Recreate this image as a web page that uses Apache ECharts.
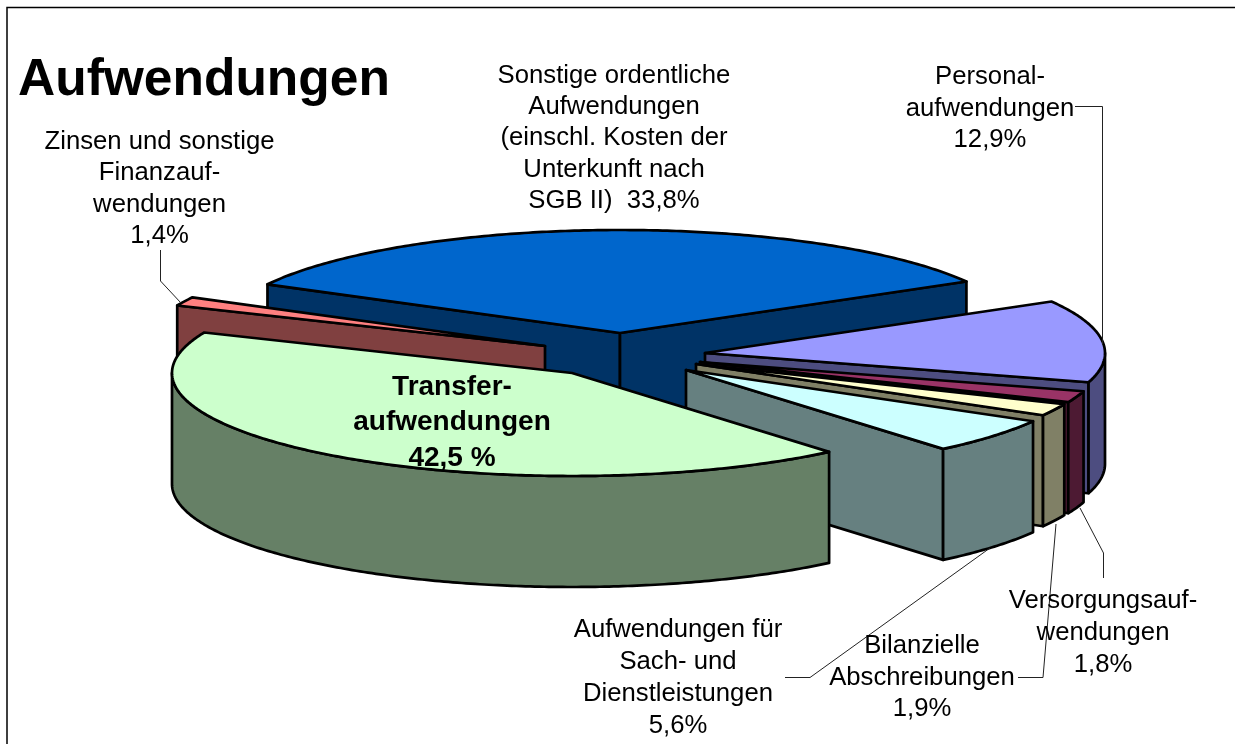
<!DOCTYPE html>
<html>
<head>
<meta charset="utf-8">
<title>Aufwendungen</title>
<style>html,body{margin:0;padding:0;background:#fff}#c{width:1235px;height:744px}</style>
<script src="https://cdn.jsdelivr.net/npm/echarts@6/dist/echarts.min.js"></script>
</head>
<body>
<div id="c"></div>
<script>
// ---- data (clockwise order) ----
const categories = ['Sonstige ordentliche Aufwendungen', 'Personalaufwendungen', 'Versorgungsaufwendungen',
  'Bilanzielle Abschreibungen', 'Aufwendungen für Sach- und Dienstleistungen', 'Transferaufwendungen',
  'Zinsen und sonstige Finanzaufwendungen'];
const shares = [33.8, 12.9, 1.8, 1.9, 5.6, 42.5, 1.4];
const chartTitle = 'Aufwendungen';
const labelLines = [
  ['Sonstige ordentliche', 'Aufwendungen', '(einschl. Kosten der', 'Unterkunft nach', 'SGB II)  33,8%'],
  ['Personal-', 'aufwendungen', '12,9%'],
  ['Versorgungsauf-', 'wendungen', '1,8%'],
  ['Bilanzielle', 'Abschreibungen', '1,9%'],
  ['Aufwendungen für', 'Sach- und', 'Dienstleistungen', '5,6%'],
  ['Transfer-', 'aufwendungen', '42,5 %'],
  ['Zinsen und sonstige', 'Finanzauf-', 'wendungen', '1,4%']
];

// ---- styles and layout ----
const topColors  = ['#0066CC', '#9999FF', '#993366', '#FFFFCC', '#CCFFFF', '#CCFFCC', '#FF8080'];
const sideColors = ['#003366', '#4D4D80', '#4D1A33', '#808066', '#668080', '#668066', '#804040'];
const explodedCentres = [[620,333],[705,353],[700,362],[696,364],[686,370],[572,373],[545,346]];
const paintOrder = [0, 6, 1, 2, 3, 4, 5];
const radiusX = 400, radiusY = 103, depth = 111, startAngle = 151.8;
const labelAnchors = [[614,76,31.2],[990,77,31.5],[1103,601,32],[922,646,31.5],[678,630,32],[452,387,35.5],[159.5,142,31.3]];
const leaderPaths = [
  [[1075,106.5],[1102.5,106.5],[1102.5,345]],
  [[1103.5,578],[1103.5,553],[1080,508]],
  [[1018,677.5],[1043,677.5],[1056,524]],
  [[785,677.5],[810,677.5],[990,548]],
  [[160.5,250],[160.5,281],[181,303]]
];

const total = shares.reduce((a, b) => a + b, 0);
const sweep = [];
shares.reduce((from, v, i) => { const to = from - v / total * 360; sweep[i] = [from, to]; return to; }, startAngle);

function rim(c, deg, drop) {
  const r = deg * Math.PI / 180;
  return [c[0] + radiusX * Math.cos(r), c[1] - radiusY * Math.sin(r) + (drop || 0)];
}
function arc(c, a0, a1, drop) {
  const n = Math.max(2, Math.ceil(Math.abs(a0 - a1) * 1.5)), pts = [];
  for (let k = 0; k <= n; k++) pts.push(rim(c, a0 + (a1 - a0) * k / n, drop));
  return pts;
}
function face(points, fill) {
  return { type: 'polygon', shape: { points }, style: { fill, stroke: '#000', lineWidth: 2.7, lineJoin: 'round' } };
}
function renderSlice(params, api) {
  const i = api.value(1), c = explodedCentres[i], a0 = sweep[i][0], a1 = sweep[i][1];
  const children = [];
  const cos = d => Math.cos(d * Math.PI / 180);
  const bottom = [c[0], c[1] + depth];
  if (cos(a0) < 0) children.push(face([c, rim(c, a0), rim(c, a0, depth), bottom], sideColors[i]));
  if (cos(a1) > 0) children.push(face([c, rim(c, a1), rim(c, a1, depth), bottom], sideColors[i]));
  const wallFrom = Math.min(a0, 0), wallTo = Math.max(a1, -180);
  if (wallFrom > wallTo) {
    children.push(face(arc(c, wallFrom, wallTo, 0).concat(arc(c, wallTo, wallFrom, depth)), sideColors[i]));
  }
  children.push(face([c].concat(arc(c, a0, a1, 0)), topColors[i]));
  return { type: 'group', children };
}

const textEls = [];
labelLines.forEach((lines, i) => {
  const a = labelAnchors[i], bold = i === 5;
  lines.forEach((t, k) => textEls.push({
    type: 'text', z: 20,
    style: { text: t, x: a[0], y: a[1] + k * a[2], align: 'center', verticalAlign: 'middle',
      font: (bold ? 'bold 28px' : '25.7px') + ' "Liberation Sans", Arial, sans-serif', fill: '#000' }
  }));
});
const leaderEls = leaderPaths.map(p => ({
  type: 'polyline', z: 10, shape: { points: p }, style: { fill: null, stroke: '#222', lineWidth: 1 }
}));
const frame = { type: 'polyline', z: 1, shape: { points: [[7,744],[7,7.5],[1235,7.5]] },
  style: { fill: null, stroke: '#000', lineWidth: 1.5 } };
const titleEl = { type: 'text', z: 20, style: { text: chartTitle, x: 18, y: 81, verticalAlign: 'middle',
  font: 'bold 51.5px "Liberation Sans", Arial, sans-serif', fill: '#000' } };

const chart = echarts.init(document.getElementById('c'), null, { renderer: 'canvas' });
chart.setOption({
  animation: false,
  backgroundColor: '#fff',
  graphic: { elements: [frame, titleEl].concat(leaderEls, textEls) },
  series: [{
    type: 'custom',
    name: 'Aufwendungen',
    coordinateSystem: 'none',
    silent: true,
    renderItem: renderSlice,
    data: paintOrder.map(i => ({ name: categories[i], value: [shares[i], i] }))
  }]
});
</script>
</body>
</html>
